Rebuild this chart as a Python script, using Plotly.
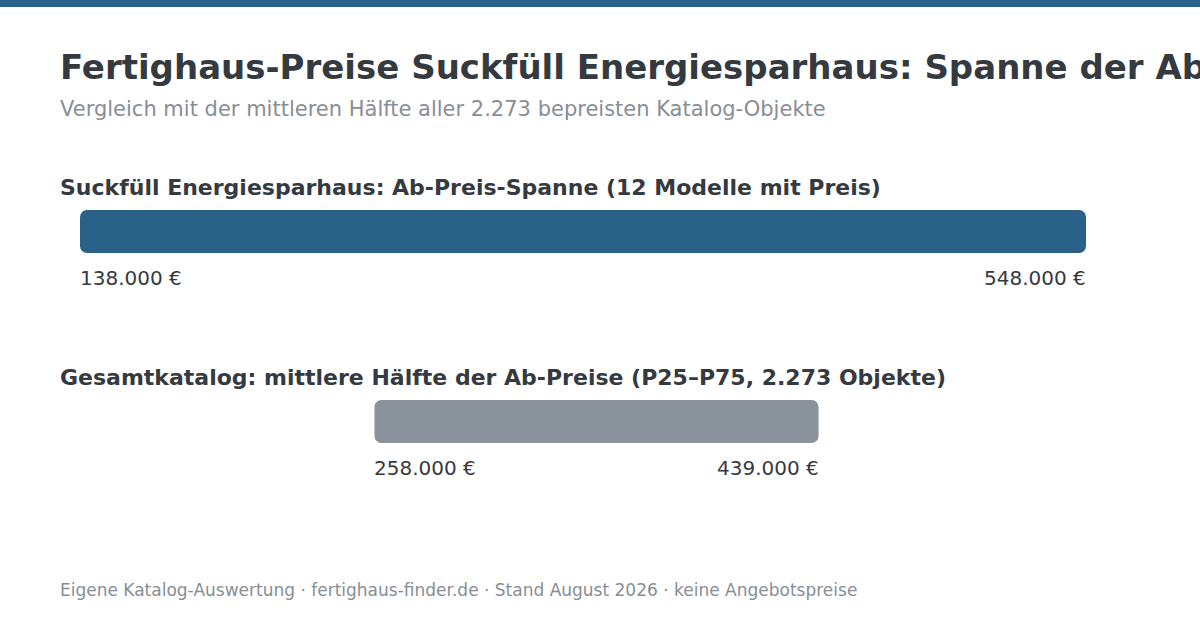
import plotly.graph_objects as go

categories = ["Suckfüll Energiesparhaus", "Gesamtkatalog"]
section_labels = [
    "Suckfüll Energiesparhaus: Ab-Preis-Spanne (12 Modelle mit Preis)",
    "Gesamtkatalog: mittlere Hälfte der Ab-Preise (P25–P75, 2.273 Objekte)",
]
low_values = [138000, 258000]
high_values = [548000, 439000]
bar_colors = ["#2a6189", "#8a939b"]

title = "Fertighaus-Preise Suckfüll Energiesparhaus: Spanne der Ab-Preise"
subtitle = "Vergleich mit der mittleren Hälfte aller 2.273 bepreisten Katalog-Objekte"
footer = "Eigene Katalog-Auswertung · fertighaus-finder.de · Stand August 2026 · keine Angebotspreise"

TEXT = "#343a40"
MUTED = "#888e94"
FONT = "DejaVu Sans"


def eur(v):
    return f"{v:,.0f}".replace(",", ".") + " €"


fig = go.Figure()
fig.add_trace(go.Bar(
    y=categories,
    x=[h - l for l, h in zip(low_values, high_values)],
    base=low_values,
    orientation="h",
    marker=dict(color=bar_colors, cornerradius=7, line=dict(width=0)),
    width=43 / 190,
    hoverinfo="skip",
))

annotations = []
for cat, lab, lo, hi in zip(categories, section_labels, low_values, high_values):
    annotations.append(dict(x=60 / 1200, xref="paper", y=cat, yref="y", yshift=44, xshift=-2,
                            text=f"<b>{lab}</b>", showarrow=False, xanchor="left",
                            yanchor="middle", font=dict(size=22, color=TEXT, family=FONT)))
    annotations.append(dict(x=lo, xref="x", y=cat, yref="y", yshift=-46, xshift=-2,
                            text=eur(lo), showarrow=False, xanchor="left",
                            yanchor="middle", font=dict(size=20, color=TEXT, family=FONT)))
    annotations.append(dict(x=hi, xref="x", y=cat, yref="y", yshift=-46, xshift=2,
                            text=eur(hi), showarrow=False, xanchor="right",
                            yanchor="middle", font=dict(size=20, color=TEXT, family=FONT)))

annotations += [
    dict(x=60 / 1200, xref="paper", y=1 - 67 / 630, yref="paper", text=f"<b>{title}</b>",
         showarrow=False, xanchor="left", yanchor="middle", xshift=-2,
         font=dict(size=34, color=TEXT, family=FONT)),
    dict(x=60 / 1200, xref="paper", y=1 - 109 / 630, yref="paper", text=subtitle,
         showarrow=False, xanchor="left", yanchor="middle", xshift=-2,
         font=dict(size=21, color=MUTED, family=FONT)),
    dict(x=60 / 1200, xref="paper", y=1 - 590 / 630, yref="paper", text=footer,
         showarrow=False, xanchor="left", yanchor="middle", xshift=-2,
         font=dict(size=17, color=MUTED, family=FONT)),
]

fig.update_layout(
    width=1200, height=630,
    margin=dict(l=0, r=0, t=0, b=0),
    paper_bgcolor="white", plot_bgcolor="white",
    showlegend=False,
    font=dict(family=FONT, color=TEXT),
    xaxis=dict(domain=[80 / 1200, 1086 / 1200], range=[min(low_values), max(high_values)],
               visible=False, fixedrange=True),
    yaxis=dict(range=[(630 - 231.5) / 190, -231.5 / 190], visible=False, fixedrange=True),
    annotations=annotations,
    shapes=[dict(type="rect", xref="paper", yref="paper", x0=0, x1=1, y0=1 - 7 / 630, y1=1,
                 fillcolor="#2a6189", line=dict(width=0), layer="above")],
)

fig.write_html(
    "out.html",
    config={"displayModeBar": False},
    post_script="document.body.style.margin='0';document.body.style.padding='0';document.body.style.overflow='hidden';",
)
